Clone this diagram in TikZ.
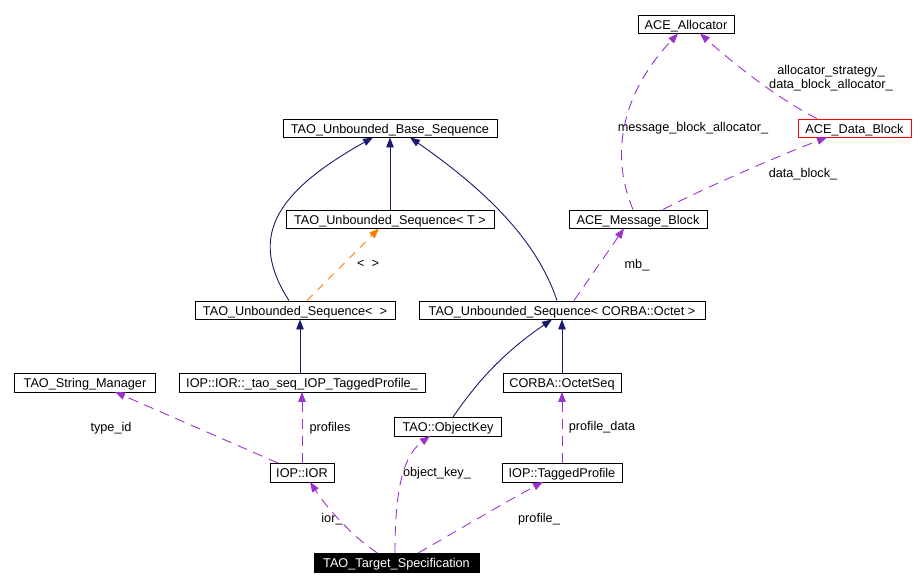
\documentclass[tikz,border=0pt]{standalone}
\usepackage{fontspec}
\setmainfont{Liberation Sans}
\usetikzlibrary{arrows.meta,positioning}

\begin{document}
\begin{tikzpicture}[
            x=1pt,y=-1pt,
            font=\fontsize{12.7}{14}\selectfont,
            inh/.style={draw=nvx,line width=0.9pt,-{Triangle[length=10pt,width=7.5pt]}},
            use/.style={draw=pux,line width=0.9pt,dash pattern=on 10pt off 7pt,-{Triangle[length=10pt,width=7.5pt]}},
            tmpl/.style={draw=orx,line width=0.9pt,dash pattern=on 8pt off 7pt,-{Triangle[length=10pt,width=7.5pt]}}
        ]
            \definecolor{nvx}{RGB}{25,25,112}
            \definecolor{pux}{RGB}{154,50,205}
            \colorlet{orx}{orange}

            \useasboundingbox (0,0) rectangle (924,587);

            \begin{scope}[
                every node/.style={draw,minimum height=18.5pt,inner sep=0pt,text height=12pt,text depth=2pt}
            ]
                \node (base)   at (390,128)   [minimum width=214pt] {TAO\_Unbounded\_Base\_Sequence};
                \node (useqT)  at (390,219)   [minimum width=208pt] {TAO\_Unbounded\_Sequence< T >};
                \node (useqE)  at (295,310)   [minimum width=200pt] {TAO\_Unbounded\_Sequence<\ \ >};
                \node (useqO)  at (562,310)   [minimum width=286pt] {TAO\_Unbounded\_Sequence< CORBA::Octet >};
                \node (alloc)  at (686,24)    [minimum width=96pt]  {ACE\_Allocator};
                \node (dblock) at (854.5,128) [minimum width=113pt,draw=red] {ACE\_Data\_Block};
                \node (mblock) at (638,219)   [minimum width=138pt] {ACE\_Message\_Block};
                \node (strmgr) at (85,382.5)  [minimum width=141pt] {TAO\_String\_Manager};
                \node (iorseq) at (302,382.5) [minimum width=246pt] {IOP::IOR::\_tao\_seq\_IOP\_TaggedProfile\_};
                \node (octseq) at (562,382.5) [minimum width=118pt] {CORBA::OctetSeq};
                \node (objkey) at (448,426.5) [minimum width=107pt] {TAO::ObjectKey};
                \node (ior)    at (302,472.5) [minimum width=64pt]  {IOP::IOR};
                \node (tagged) at (562,472.5) [minimum width=120pt] {IOP::TaggedProfile};
                \node (target) at (396.5,562.5) [minimum width=165pt,fill=black,text=white] {TAO\_Target\_Specification};
            \end{scope}

            \node (lbT)    at (368,264) {<\ \ >};
            \node (lbmb)   at (637,265) {mb\_};
            \node (lbmba)  at (693,128) {message\_block\_allocator\_};
            \node (lbas)   at (831,78) [align=center] {allocator\_strategy\_\\data\_block\_allocator\_};
            \node (lbdb)   at (803,174) {data\_block\_};
            \node (lbtid)  at (111,428) {type\_id};
            \node (lbpr)   at (330,428) {profiles};
            \node (lbior)  at (332,519) {ior\_};
            \node (lbok)   at (437,473) {object\_key\_};
            \node (lbpd)   at (602,427) {profile\_data};
            \node (lbpf)   at (539,519) {profile\_};

            \draw [inh]  ([xshift=-6pt]useqE.north) .. controls (250,240) and (270,195) .. ([xshift=-17pt]base.south);
            \draw [inh]  (useqT.north) -- (base.south);
            \draw [inh]  ([xshift=-5pt]useqO.north) .. controls (540,250) and (500,200) .. ([xshift=20pt]base.south);
            \draw [tmpl] ([xshift=12pt]useqE.north) -- ([xshift=-11pt]useqT.south);
            \draw [inh]  ([xshift=-2pt]iorseq.north) -- ([xshift=5pt]useqE.south);
            \draw [inh]  ([xshift=5pt]objkey.north) .. controls (475,385) and (500,355) .. ([xshift=-10pt]useqO.south);
            \draw [inh]  (octseq.north) -- (useqO.south);
            \draw [use]  ([xshift=-5pt]mblock.north) .. controls (608,150) and (625,90) .. ([xshift=-8pt]alloc.south);
            \draw [use]  ([xshift=-37.5pt]dblock.north) .. controls (780,100) and (735,65) .. ([xshift=14pt]alloc.south);
            \draw [use]  ([xshift=25pt]mblock.north) .. controls (700,190) and (780,155) .. ([xshift=-27.5pt]dblock.south);
            \draw [use]  ([xshift=12pt]useqO.north) -- ([xshift=-14pt]mblock.south);
            \draw [use]  ([xshift=-24pt]ior.north) -- ([xshift=30pt]strmgr.south);
            \draw [use]  (ior.north) -- (iorseq.south);
            \draw [use]  ([xshift=-19pt]target.north) .. controls (350,535) and (325,505) .. ([xshift=8pt]ior.south);
            \draw [use]  ([xshift=-1.5pt]target.north) .. controls (395,500) and (400,458) .. ([xshift=-18pt]objkey.south);
            \draw [use]  ([xshift=21.5pt]target.north) .. controls (450,535) and (500,505) .. ([xshift=-19pt]tagged.south);
            \draw [use]  (tagged.north) -- (octseq.south);
        \end{tikzpicture}
\end{document}
